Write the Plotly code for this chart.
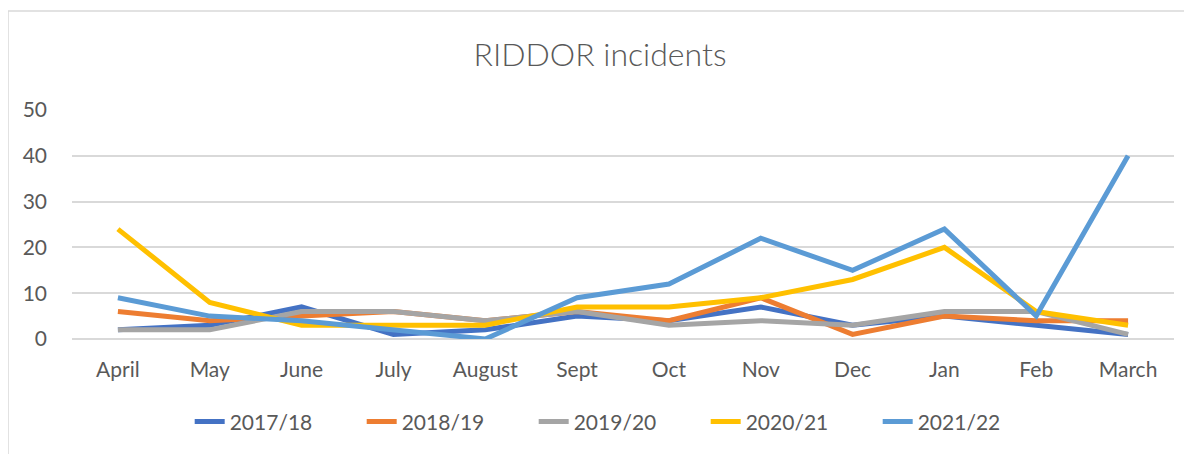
import plotly.graph_objects as go

months = ["April", "May", "June", "July", "August", "Sept", "Oct", "Nov", "Dec", "Jan", "Feb", "March"]
s_2017_18 = [2, 3, 7, 1, 2, 5, 4, 7, 3, 5, 3, 1]
s_2018_19 = [6, 4, 5, 6, 4, 6, 4, 9, 1, 5, 4, 4]
s_2019_20 = [2, 2, 6, 6, 4, 6, 3, 4, 3, 6, 6, 1]
s_2020_21 = [24, 8, 3, 3, 3, 7, 7, 9, 13, 20, 6, 3]
s_2021_22 = [9, 5, 4, 2, 0, 9, 12, 22, 15, 24, 5, 40]
series_names = ["2017/18", "2018/19", "2019/20", "2020/21", "2021/22"]
series_values = [s_2017_18, s_2018_19, s_2019_20, s_2020_21, s_2021_22]
colors = ["#4472C4", "#ED7D31", "#A5A5A5", "#FFC000", "#5B9BD5"]
y_ticks = [0, 10, 20, 30, 40, 50]

FONT = "Lato"
GREY = "#595959"

# page body has an 8px margin; figure sized to fit the 1192x454 window
W, H = 1184, 446

fig = go.Figure()
for name, vals, col in zip(series_names, series_values, colors):
    fig.add_trace(go.Scatter(
        x=months, y=vals, name=name, mode="lines",
        line=dict(color=col, width=5),
    ))

fig.update_layout(
    width=W, height=H,
    margin=dict(l=64, r=18, t=102, b=115),
    paper_bgcolor="white", plot_bgcolor="white",
    font=dict(family=FONT, size=21, color=GREY),
    title=dict(text="RIDDOR incidents", x=0.5, xanchor="center",
               y=1 - 47 / H, yanchor="middle", yref="container",
               font=dict(family=FONT, size=32, color=GREY, weight=300)),
    showlegend=True,
    legend=dict(orientation="h", x=0.497, xanchor="center", y=-0.362, yanchor="middle",
                font=dict(family=FONT, size=21, color=GREY),
                entrywidth=127, entrywidthmode="pixels"),
    xaxis=dict(type="category", range=[-0.5, 11.5], showgrid=False, showline=False,
               zeroline=False, ticks="", ticklabelstandoff=16,
               tickfont=dict(family=FONT, size=21, color=GREY)),
    yaxis=dict(range=[0, 50], tickvals=y_ticks, showgrid=True, gridcolor="#d9d9d9",
               gridwidth=1.5, zeroline=True, zerolinecolor="#d9d9d9", zerolinewidth=1.5,
               showline=False, ticks="", ticklabelstandoff=24,
               tickfont=dict(family=FONT, size=21, color=GREY)),
    shapes=[dict(type="rect", xref="paper", yref="paper",
                 x0=(8 - 72) / 1102, x1=1.2, y0=-1.0, y1=(339 - 11) / 229,
                 line=dict(color="#d9d9d9", width=1.5), fillcolor="rgba(0,0,0,0)",
                 layer="below")],
)

fig.write_html("out.html")
